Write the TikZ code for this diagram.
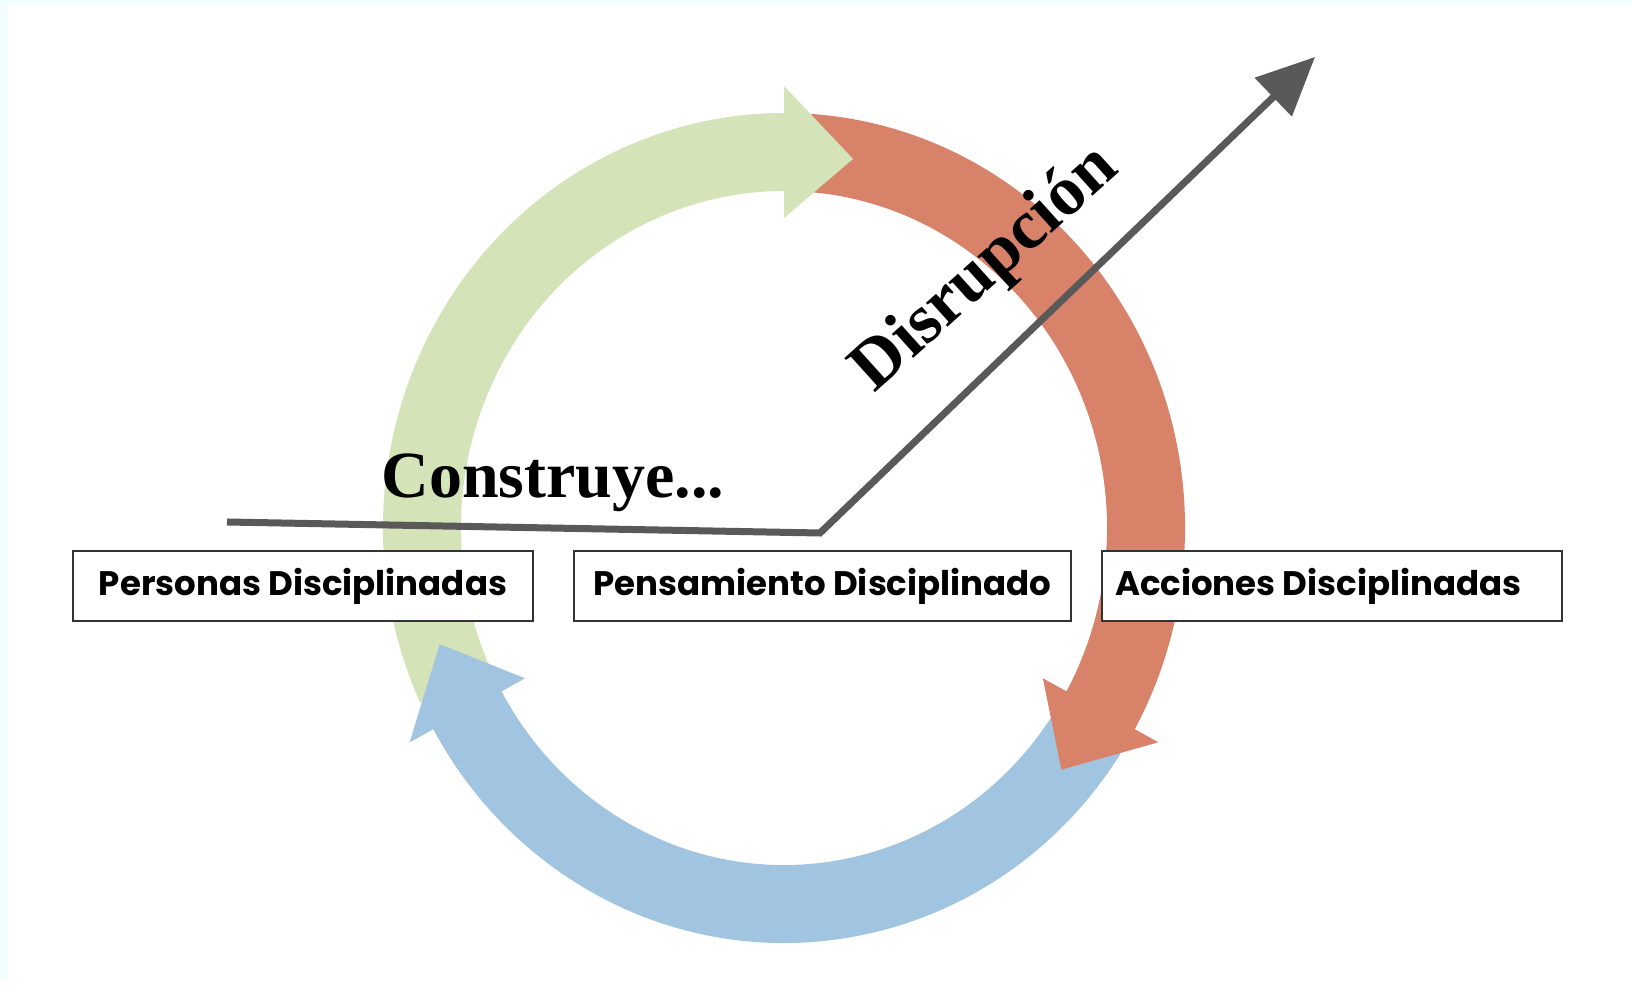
\documentclass[tikz,border=0pt]{standalone}
\usepackage{fontspec}
\setmainfont{Liberation Serif}
\newfontfamily\boxfont{Poppins}
\usetikzlibrary{arrows.meta}
\definecolor{ringgreen}{RGB}{213,227,185}
\definecolor{ringred}{RGB}{217,130,106}
\definecolor{ringblue}{RGB}{161,197,224}
\definecolor{linegray}{RGB}{89,89,89}
\definecolor{edgecyan}{RGB}{242,254,254}

\begin{document}
\begin{tikzpicture}[x=1pt, y=1pt,
    band/.style={line width=78pt},
    stagebox/.style={draw=black!80, line width=2pt, fill=white, minimum height=70pt, inner sep=0pt,
      font=\boxfont\bfseries\fontsize{34}{38}\selectfont},
    disrupt/.style={draw=linegray, line width=7pt, -{Triangle[length=58pt, width=52pt]}}]
    \fill[edgecyan] (0,0) rectangle (1632,979);
    \fill[white] (8,0) rectangle (1632,974);
    \begin{scope}[shift={(784,451)}]
      \foreach \from/\to/\col in {205/88/ringgreen, 87/-31/ringred, -33/-153/ringblue}
        \draw[band, \col] (\from:362 and 376) arc[start angle=\from, end angle=\to, x radius=362, y radius=376];
      \foreach \base/\col in {90/ringgreen, -29/ringred, -151/ringblue}
        \fill[\col] (\base:428 and 442) -- ({\base-11}:362 and 376) -- (\base:296 and 310) -- cycle;
    \end{scope}
    \node[stagebox, minimum width=460pt] (personas) at (303,393) {Personas Disciplinadas};
    \node[stagebox, minimum width=497pt] (pensamiento) at (822.5,393) {Pensamiento Disciplinado};
    \node[stagebox, minimum width=460pt] (acciones) at (1332,393) {\makebox[434pt][l]{Acciones Disciplinadas}};
    \coordinate (inicio) at (227,457);
    \coordinate (quiebre) at (820,446);
    \coordinate (punta) at (1315,922);
    \draw[disrupt] (inicio) -- (quiebre) -- (punta);
    \node[font=\bfseries\fontsize{66}{70}\selectfont, anchor=base] (construye) at (553,481) {Construye...};
    \node[font=\bfseries\fontsize{70}{74}\selectfont, rotate=42] (disrupcion) at (986,709) {Disrupción};
\end{tikzpicture}
\end{document}
